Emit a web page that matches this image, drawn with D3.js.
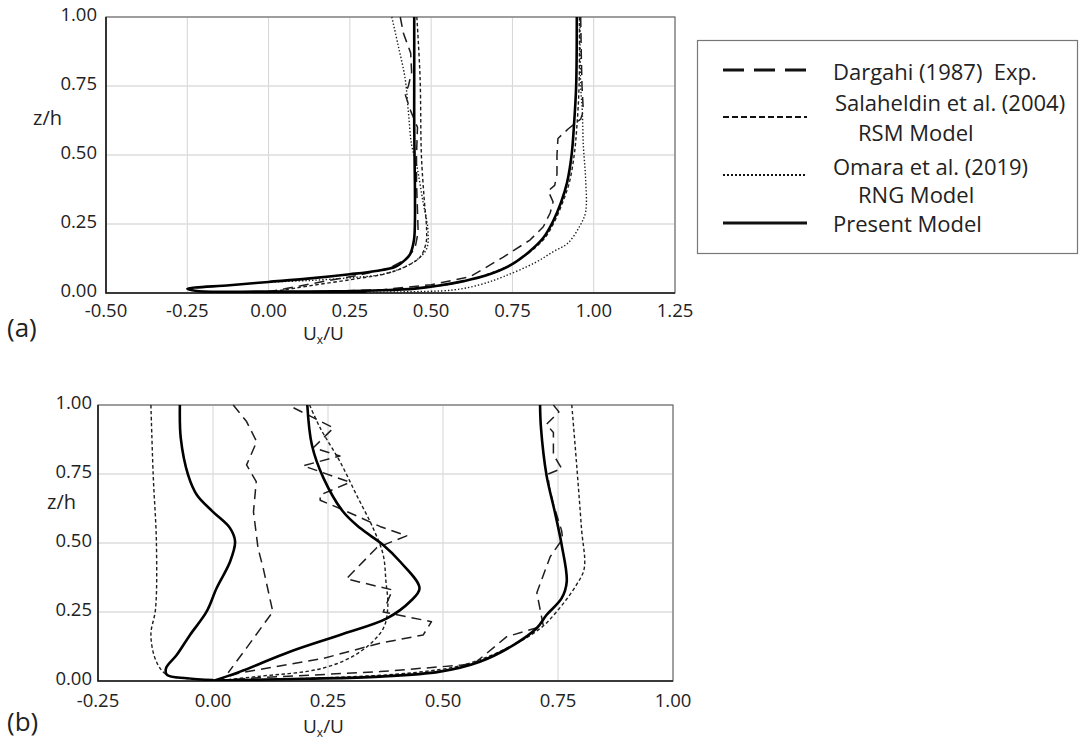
<!DOCTYPE html>
<html lang="en">
<head>
<meta charset="UTF-8">
<title>Velocity profiles</title>
<script src="https://d3js.org/d3.v7.min.js"></script>
<style>
    body { margin: 0; background: #fff; }
    svg text { font-family: "Open Sans", "Noto Sans", sans-serif; fill: #222; white-space: pre; }
</style>
</head>
<body>
<div id="chart"></div>
<script>
// ---- data: [Ux/U, z/h] pairs ----

// panel (a)
const aDargahi1 = [[0.405,1.0],[0.415,0.94],[0.437,0.87],[0.44,0.8],[0.43,0.75],[0.42,0.72],[0.437,0.66],[0.458,0.6],[0.455,0.5],[0.455,0.4],[0.458,0.3],[0.46,0.22],[0.45,0.16],[0.42,0.12],[0.37,0.09],[0.28,0.065],[0.16,0.04],[0.05,0.015],[0.0,0.005]];
const aDargahi2 = [[0.96,1.0],[0.962,0.85],[0.964,0.75],[0.968,0.66],[0.96,0.63],[0.922,0.595],[0.89,0.56],[0.887,0.5],[0.887,0.43],[0.88,0.39],[0.86,0.37],[0.875,0.33],[0.866,0.29],[0.845,0.24],[0.804,0.192],[0.722,0.13],[0.62,0.059],[0.5,0.03],[0.35,0.012],[0.1,0.003]];
const aSalaheldin1 = [[0.456,1.0],[0.466,0.78],[0.47,0.5],[0.478,0.35],[0.486,0.23],[0.484,0.18],[0.466,0.13],[0.42,0.095],[0.36,0.07],[0.25,0.048],[0.12,0.025],[0.045,0.011],[0.0,0.005]];
const aSalaheldin2 = [[0.956,1.0],[0.955,0.75],[0.948,0.6],[0.94,0.5],[0.925,0.4],[0.905,0.33],[0.88,0.26],[0.85,0.2],[0.8,0.145],[0.74,0.1],[0.66,0.062],[0.57,0.035],[0.47,0.019],[0.3,0.008],[0.1,0.003]];
const aOmara1 = [[0.379,1.0],[0.398,0.9],[0.42,0.777],[0.43,0.656],[0.44,0.536],[0.456,0.46],[0.475,0.33],[0.49,0.23],[0.486,0.16],[0.456,0.12],[0.40,0.085],[0.343,0.066],[0.25,0.055],[0.12,0.045],[0.0,0.04]];
const aOmara2 = [[0.958,1.0],[0.96,0.75],[0.965,0.656],[0.968,0.535],[0.975,0.415],[0.975,0.293],[0.956,0.24],[0.92,0.18],[0.876,0.15],[0.82,0.11],[0.722,0.059],[0.65,0.03],[0.568,0.011],[0.4,0.004],[0.2,0.001]];
const aPresent1 = [[0.448,1.0],[0.448,0.8],[0.448,0.6],[0.45,0.4],[0.45,0.25],[0.447,0.19],[0.435,0.14],[0.42,0.12],[0.39,0.095],[0.33,0.08],[0.25,0.068],[0.12,0.052],[0.0,0.04],[-0.12,0.028],[-0.25,0.015],[-0.22,0.007],[0.0,0.005],[0.3,0.004]];
const aPresent2 = [[0.948,1.0],[0.946,0.75],[0.94,0.62],[0.932,0.5],[0.918,0.4],[0.9,0.33],[0.875,0.26],[0.845,0.2],[0.8,0.148],[0.743,0.1],[0.67,0.064],[0.6,0.043],[0.52,0.026],[0.45,0.016],[0.35,0.01],[0.2,0.006],[0.0,0.003]];

// panel (b)
const bDargahi1 = [[0.044,1.0],[0.073,0.94],[0.095,0.867],[0.073,0.783],[0.094,0.722],[0.088,0.613],[0.098,0.48],[0.109,0.41],[0.13,0.251],[0.073,0.12],[0.033,0.03]];
const bDargahi2 = [[0.175,0.99],[0.262,0.917],[0.218,0.845],[0.276,0.815],[0.196,0.78],[0.298,0.72],[0.233,0.674],[0.233,0.655],[0.283,0.62],[0.363,0.56],[0.421,0.526],[0.356,0.483],[0.29,0.37],[0.39,0.33],[0.37,0.25],[0.475,0.215],[0.457,0.167],[0.363,0.137],[0.24,0.082],[0.06,0.03],[0.0,0.0]];
const bDargahi3 = [[0.74,1.0],[0.752,0.975],[0.725,0.93],[0.74,0.9],[0.74,0.82],[0.758,0.77],[0.729,0.75],[0.73,0.71],[0.74,0.64],[0.758,0.544],[0.76,0.515],[0.733,0.45],[0.704,0.32],[0.718,0.2],[0.638,0.16],[0.573,0.07],[0.544,0.058],[0.363,0.034],[0.1,0.012],[0.02,0.003]];
const bSalaheldin1 = [[-0.135,1.0],[-0.13,0.746],[-0.123,0.5],[-0.125,0.26],[-0.135,0.167],[-0.123,0.07],[-0.1,0.022],[-0.05,0.008],[0.02,0.0]];
const bSalaheldin2 = [[0.21,1.0],[0.233,0.917],[0.276,0.795],[0.312,0.674],[0.348,0.554],[0.37,0.457],[0.376,0.36],[0.38,0.27],[0.37,0.19],[0.32,0.106],[0.24,0.047],[0.095,0.016],[0.0,0.0]];
const bSalaheldin3 = [[0.78,1.0],[0.79,0.795],[0.801,0.554],[0.807,0.408],[0.79,0.348],[0.747,0.251],[0.711,0.19],[0.638,0.118],[0.544,0.058],[0.435,0.03],[0.25,0.012],[0.05,0.003]];
const bPresent1 = [[-0.072,1.0],[-0.07,0.879],[-0.054,0.746],[-0.035,0.674],[0.0,0.613],[0.037,0.554],[0.048,0.505],[0.037,0.432],[0.008,0.337],[-0.014,0.251],[-0.05,0.167],[-0.079,0.094],[-0.102,0.047],[-0.1,0.022],[-0.057,0.01],[0.0,0.003]];
const bPresent2 = [[0.205,1.0],[0.215,0.855],[0.24,0.736],[0.283,0.613],[0.32,0.554],[0.37,0.493],[0.407,0.432],[0.449,0.336],[0.428,0.287],[0.378,0.227],[0.276,0.167],[0.167,0.106],[0.059,0.034],[0.0,0.0]];
const bPresent3 = [[0.711,1.0],[0.713,0.917],[0.725,0.746],[0.743,0.613],[0.758,0.493],[0.769,0.36],[0.758,0.3],[0.725,0.239],[0.704,0.192],[0.653,0.13],[0.58,0.07],[0.493,0.034],[0.363,0.016],[0.2,0.008],[0.0,0.002]];

// ticks
const aXTicks = [-0.5, -0.25, 0, 0.25, 0.5, 0.75, 1.0, 1.25];
const aXLabels = ['-0.50', '-0.25', '0.00', '0.25', '0.50', '0.75', '1.00', '1.25'];
const bXTicks = [-0.25, 0, 0.25, 0.5, 0.75, 1.0];
const bXLabels = ['-0.25', '0.00', '0.25', '0.50', '0.75', '1.00'];
const yTicks = [0, 0.25, 0.5, 0.75, 1.0];
const yLabels = ['0.00', '0.25', '0.50', '0.75', '1.00'];

const legendNames = ['Dargahi (1987)  Exp.', 'Salaheldin et al. (2004)', 'Omara et al. (2019)', 'Present Model'];

// line styles per series
const styles = {
    dargahi:    { width: 1.5, dash: '10,6', curve: d3.curveLinear },
    salaheldin: { width: 1.4, dash: '3.5,2.5', curve: d3.curveCatmullRom.alpha(0.5) },
    omara:      { width: 1.4, dash: '1.4,2', curve: d3.curveCatmullRom.alpha(0.5) },
    present:    { width: 2.6, dash: null, curve: d3.curveCatmullRom.alpha(0.5) }
};

const svg = d3.select('#chart').append('svg')
    .attr('width', 1080)
    .attr('height', 745);

function drawPanel(cfg) {
    const x = d3.scaleLinear().domain(cfg.xDomain).range([cfg.left, cfg.right]);
    const y = d3.scaleLinear().domain([0, 1]).range([cfg.bottom, cfg.top]);
    const g = svg.append('g');

    // grid
    g.selectAll('.vgrid').data(cfg.xTicks).enter().append('line')
        .attr('x1', d => x(d)).attr('x2', d => x(d))
        .attr('y1', cfg.top).attr('y2', cfg.bottom)
        .attr('stroke', '#d4d4d4').attr('stroke-width', 1);
    g.selectAll('.hgrid').data(yTicks).enter().append('line')
        .attr('x1', cfg.left).attr('x2', cfg.right)
        .attr('y1', d => y(d)).attr('y2', d => y(d))
        .attr('stroke', '#dcdcdc').attr('stroke-width', 1.3);

    // frame
    g.append('rect')
        .attr('x', cfg.left).attr('y', cfg.top)
        .attr('width', cfg.right - cfg.left).attr('height', cfg.bottom - cfg.top)
        .attr('fill', 'none').attr('stroke', '#6e6e6e').attr('stroke-width', 1.2);
    g.append('path')
        .attr('d', `M${cfg.left},${cfg.top}V${cfg.bottom}H${cfg.right}`)
        .attr('fill', 'none').attr('stroke', '#1a1a1a').attr('stroke-width', 1.6);

    // tick labels
    g.selectAll('.xl').data(cfg.xTicks).enter().append('text')
        .attr('x', d => x(d)).attr('y', cfg.bottom + cfg.xLabelOffset)
        .attr('text-anchor', 'middle')
        .style('font-size', '18.5px')
        .text((d, i) => cfg.xLabels[i]);
    g.selectAll('.yl').data(yTicks).enter().append('text')
        .attr('x', cfg.left - cfg.yLabelGap).attr('y', d => y(d) + 4)
        .attr('text-anchor', 'end')
        .style('font-size', '18.5px')
        .text((d, i) => yLabels[i]);

    // axis titles
    g.append('text').attr('x', cfg.zhX).attr('y', cfg.zhY)
        .style('font-size', '20px').text('z/h');
    const t = g.append('text').attr('x', 303).attr('y', cfg.uxY).style('font-size', '19px');
    t.append('tspan').text('U');
    t.append('tspan').attr('dy', 4).style('font-size', '12px').text('x');
    t.append('tspan').attr('dy', -4).text('/U');
    g.append('text').attr('x', 7).attr('y', cfg.tagY)
        .style('font-size', '26px').text(cfg.tag);

    // curves
    const clipId = 'clip-' + cfg.tag.replace(/\W/g, '');
    svg.append('clipPath').attr('id', clipId).append('rect')
        .attr('x', cfg.left).attr('y', cfg.top - 2)
        .attr('width', cfg.right - cfg.left).attr('height', cfg.bottom - cfg.top + 2);
    const lines = g.append('g').attr('clip-path', `url(#${clipId})`);
    cfg.series.forEach(s => {
        const st = styles[s.kind];
        const line = d3.line().x(d => x(d[0])).y(d => y(d[1])).curve(st.curve);
        lines.append('path')
            .datum(s.data)
            .attr('d', line)
            .attr('fill', 'none')
            .attr('stroke', s.kind === 'present' ? '#000' : '#1e1e1e')
            .attr('stroke-width', st.width)
            .attr('stroke-dasharray', st.dash)
            .attr('stroke-linejoin', 'round');
    });
}

drawPanel({
    tag: '(a)', tagY: 337,
    xDomain: [-0.5, 1.25], left: 106, right: 675, top: 17, bottom: 293,
    xTicks: aXTicks, xLabels: aXLabels, xLabelOffset: 24, yLabelGap: 9,
    zhX: 33, zhY: 125, uxY: 340,
    series: [
        { kind: 'omara', data: aOmara1 }, { kind: 'omara', data: aOmara2 },
        { kind: 'salaheldin', data: aSalaheldin1 }, { kind: 'salaheldin', data: aSalaheldin2 },
        { kind: 'dargahi', data: aDargahi1 }, { kind: 'dargahi', data: aDargahi2 },
        { kind: 'present', data: aPresent1 }, { kind: 'present', data: aPresent2 }
    ]
});

drawPanel({
    tag: '(b)', tagY: 731,
    xDomain: [-0.25, 1.0], left: 98, right: 673, top: 405, bottom: 681,
    xTicks: bXTicks, xLabels: bXLabels, xLabelOffset: 26, yLabelGap: 6,
    zhX: 47, zhY: 509, uxY: 733,
    series: [
        { kind: 'salaheldin', data: bSalaheldin1 }, { kind: 'salaheldin', data: bSalaheldin2 }, { kind: 'salaheldin', data: bSalaheldin3 },
        { kind: 'dargahi', data: bDargahi1 }, { kind: 'dargahi', data: bDargahi2 }, { kind: 'dargahi', data: bDargahi3 },
        { kind: 'present', data: bPresent1 }, { kind: 'present', data: bPresent2 }, { kind: 'present', data: bPresent3 }
    ]
});

// legend
const lg = svg.append('g');
lg.append('rect')
    .attr('x', 697.5).attr('y', 40.5).attr('width', 380).attr('height', 213)
    .attr('fill', '#fff').attr('stroke', '#777').attr('stroke-width', 1.2);

const legendLines = [
    { y: 70,  width: 3,   dash: '21,10' },
    { y: 117, width: 2.2, dash: '6,3' },
    { y: 175, width: 2.2, dash: '2,2' },
    { y: 223, width: 2.8, dash: null }
];
lg.selectAll('.ll').data(legendLines).enter().append('line')
    .attr('x1', 723).attr('x2', 807)
    .attr('y1', d => d.y).attr('y2', d => d.y)
    .attr('stroke', '#111')
    .attr('stroke-width', d => d.width)
    .attr('stroke-dasharray', d => d.dash);

const legendTexts = [
    { x: 833, y: 80,  text: legendNames[0] },
    { x: 835, y: 111, text: legendNames[1] },
    { x: 858, y: 141, text: 'RSM Model' },
    { x: 833, y: 175, text: legendNames[2] },
    { x: 858, y: 203, text: 'RNG Model' },
    { x: 833, y: 232, text: legendNames[3] }
];
lg.selectAll('.lt').data(legendTexts).enter().append('text')
    .attr('x', d => d.x).attr('y', d => d.y)
    .style('font-size', '22px')
    .text(d => d.text);
</script>
</body>
</html>
